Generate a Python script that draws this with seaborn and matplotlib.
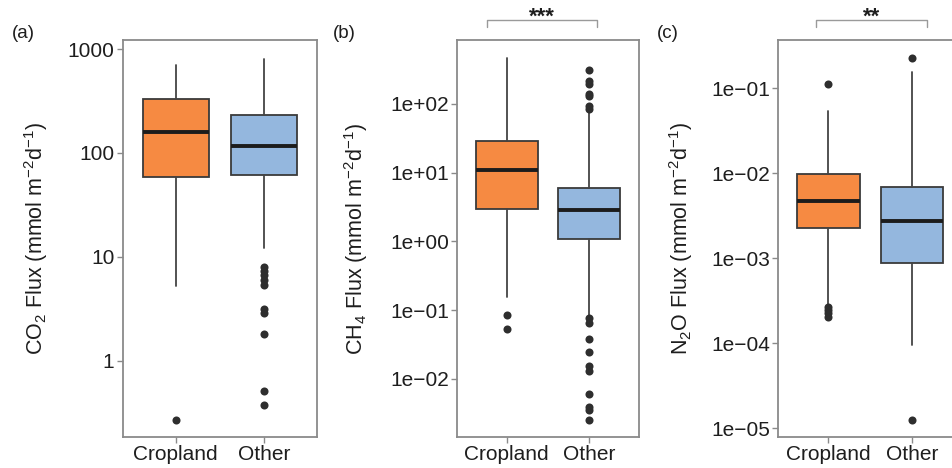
import matplotlib
matplotlib.use("Agg")
import matplotlib.pyplot as plt
import matplotlib.ticker as mticker
import matplotlib.transforms as mtrans
import pandas as pd
import seaborn as sns

groups = ["Cropland", "Other"]

# CO2 flux (mmol m-2 d-1): box summaries and outlying points
co2_whislo = [5.26, 12.1]
co2_q1 = [58.4, 61.4]
co2_med = [160, 117]
co2_q3 = [330, 233]
co2_whishi = [702, 801]
co2_out_crop = [0.271]
co2_out_other = [8.07, 7.38, 6.71, 6.01, 5.38, 3.14, 2.87, 1.80, 0.518, 0.38]

# CH4 flux (mmol m-2 d-1)
ch4_whislo = [0.157, 0.081]
ch4_q1 = [3.0, 1.087]
ch4_med = [10.8, 2.84]
ch4_q3 = [28.6, 5.93]
ch4_whishi = [462, 78]
ch4_out_crop = [0.0843, 0.054]
ch4_out_other = [316, 216, 193, 138, 131, 93.5, 83.6,
                 0.0764, 0.0659, 0.0377, 0.0244, 0.0156, 0.0132,
                 0.00598, 0.00395, 0.00354, 0.00254]

# N2O flux (mmol m-2 d-1)
n2o_whislo = [2.9e-4, 9.55e-5]
n2o_q1 = [0.00229, 8.73e-4]
n2o_med = [0.00476, 0.00277]
n2o_q3 = [0.00982, 0.00696]
n2o_whishi = [0.0541, 0.157]
n2o_out_crop = [0.113, 2.65e-4, 2.47e-4, 2.25e-4, 2.02e-4]
n2o_out_other = [0.225, 1.25e-5]

co2_ticks = [1, 10, 100, 1000]
co2_ticklabels = ["1", "10", "100", "1000"]
ch4_ticks = [1e-2, 1e-1, 1e0, 1e1, 1e2]
ch4_ticklabels = ["1e\u221202", "1e\u221201", "1e+00", "1e+01", "1e+02"]
n2o_ticks = [1e-5, 1e-4, 1e-3, 1e-2, 1e-1]
n2o_ticklabels = ["1e\u221205", "1e\u221204", "1e\u221203", "1e\u221202", "1e\u221201"]

sns.set_theme(style="white")
plt.rcParams["font.family"] = ["Liberation Sans", "DejaVu Sans"]
plt.rcParams["mathtext.fontset"] = "custom"
plt.rcParams["mathtext.rm"] = "Liberation Sans"
plt.rcParams["mathtext.it"] = "Liberation Sans"
plt.rcParams["mathtext.default"] = "regular"

fill_colors = ["#F68A42", "#94B7DE"]
edge_col = "#3a3a3a"
spine_col = "#8a8a8a"
text_col = "#1e1e1e"

W, H = 953, 468
fig = plt.figure(figsize=(W / 100, H / 100), dpi=100)

panels = [
    dict(left=122.7, width=194.0, ylim=(0.185, 1222),
         whislo=co2_whislo, q1=co2_q1, med=co2_med, q3=co2_q3, whishi=co2_whishi,
         out=[co2_out_crop, co2_out_other], ticks=co2_ticks, ticklabels=co2_ticklabels,
         ylabel=r"CO$_2$ Flux (mmol m$^{-2}$d$^{-1}$)", labx=50, tag="(a)", tagx=12,
         sig=None),
    dict(left=457.3, width=181.5, ylim=(0.00143, 853),
         whislo=ch4_whislo, q1=ch4_q1, med=ch4_med, q3=ch4_q3, whishi=ch4_whishi,
         out=[ch4_out_crop, ch4_out_other], ticks=ch4_ticks, ticklabels=ch4_ticklabels,
         ylabel=r"CH$_4$ Flux (mmol m$^{-2}$d$^{-1}$)", labx=370, tag="(b)", tagx=333,
         sig=("***", -0.244, 1.09)),
    dict(left=778.5, width=183.3, ylim=(7.9e-6, 0.37),
         whislo=n2o_whislo, q1=n2o_q1, med=n2o_med, q3=n2o_q3, whishi=n2o_whishi,
         out=[n2o_out_crop, n2o_out_other], ticks=n2o_ticks, ticklabels=n2o_ticklabels,
         ylabel=r"N$_2$O Flux (mmol m$^{-2}$d$^{-1}$)", labx=695, tag="(c)", tagx=657,
         sig=("**", -0.153, 1.179)),
]

ax_top, ax_bot = 40.0, 437.0

for p in panels:
    ax = fig.add_axes([p["left"] / W, 1 - ax_bot / H, p["width"] / W, (ax_bot - ax_top) / H])
    ax.set_yscale("log")

    stats = []
    for i, g in enumerate(groups):
        stats.append(dict(label=g, whislo=p["whislo"][i], q1=p["q1"][i], med=p["med"][i],
                          q3=p["q3"][i], whishi=p["whishi"][i], fliers=[]))
    bp = ax.bxp(stats, positions=[0, 1], widths=0.75, patch_artist=True,
                showfliers=False, showcaps=False,
                boxprops=dict(edgecolor=edge_col, linewidth=1.3),
                whiskerprops=dict(color="#444444", linewidth=1.3),
                medianprops=dict(color="#1c1c1c", linewidth=2.8, solid_capstyle="butt"))
    for patch, c in zip(bp["boxes"], fill_colors):
        patch.set_facecolor(c)

    out_df = pd.DataFrame({
        "group": [groups[0]] * len(p["out"][0]) + [groups[1]] * len(p["out"][1]),
        "flux": list(p["out"][0]) + list(p["out"][1]),
    })
    sns.stripplot(data=out_df, x="group", y="flux", order=groups, jitter=False,
                  color="#2e2e2e", size=5.8, linewidth=0, ax=ax, zorder=3)

    ax.set_xlim(-0.6, 1.6)
    ax.set_ylim(*p["ylim"])
    ax.set_xticks([0, 1])
    ax.set_xticklabels(groups)
    ax.yaxis.set_major_locator(mticker.FixedLocator(p["ticks"]))
    ax.yaxis.set_major_formatter(mticker.FixedFormatter(p["ticklabels"]))
    ax.yaxis.set_minor_locator(mticker.NullLocator())
    ax.tick_params(axis="both", which="major", direction="out", length=4, width=1.0,
                   color=spine_col, labelsize=15, labelcolor=text_col, pad=2,
                   left=True, bottom=True)
    ax.set_xlabel("")
    ax.set_ylabel(p["ylabel"], fontsize=15.5, color=text_col)
    ax.yaxis.set_label_coords((p["labx"] - p["left"]) / p["width"], 0.5)
    for s in ax.spines.values():
        s.set_color(spine_col)
        s.set_linewidth(1.3)
    ax.grid(False)

    fig.text(p["tagx"] / W, 1 - 33 / H, p["tag"], fontsize=13.5, color=text_col,
             ha="left", va="center")

    if p["sig"] is not None:
        stars, x0, x1 = p["sig"]
        tr = mtrans.blended_transform_factory(ax.transData, ax.transAxes)
        y_line = (ax_bot - 20) / (ax_bot - ax_top)
        y_end = (ax_bot - 27) / (ax_bot - ax_top)
        ax.plot([x0, x0, x1, x1], [y_end, y_line, y_line, y_end], transform=tr,
                color="#9a9a9a", linewidth=1.0, clip_on=False)
        ax.text((x0 + x1) / 2, (ax_bot - 23) / (ax_bot - ax_top), stars, transform=tr,
                ha="center", va="baseline", fontsize=16, fontweight="bold",
                color=text_col)

fig.savefig("out.png", dpi=100)
